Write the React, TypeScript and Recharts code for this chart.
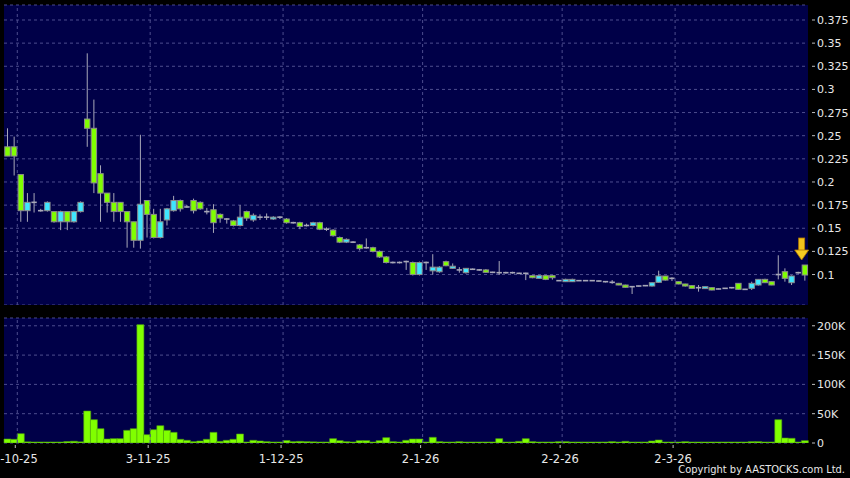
import React from 'react';
import { ComposedChart, Bar, XAxis, YAxis, CartesianGrid, ReferenceLine, ReferenceDot } from 'recharts';

// daily candles, oldest first (HKD)
const openPrice = [
  0.228, 0.228, 0.169, 0.178, 0.178, 0.169, 0.178, 0.157, 0.168, 0.157,
  0.168, 0.178, 0.258, 0.199, 0.188, 0.178, 0.168, 0.168, 0.157, 0.137,
  0.176, 0.165, 0.140, 0.157, 0.171, 0.180, 0.171, 0.173, 0.169, 0.171,
  0.168, 0.156, 0.161, 0.160, 0.153, 0.162, 0.161, 0.164, 0.162, 0.162,
  0.162, 0.162, 0.156, 0.156, 0.152, 0.153, 0.156, 0.149, 0.149, 0.142,
  0.135, 0.138, 0.135, 0.128, 0.129, 0.125, 0.119, 0.113, 0.113, 0.113,
  0.114, 0.100, 0.113, 0.113, 0.108, 0.108, 0.1095, 0.109, 0.105, 0.1067,
  0.1057, 0.105, 0.1024, 0.1024, 0.102, 0.102, 0.102, 0.1013, 0.1013, 0.0966,
  0.0988, 0.0948, 0.0966, 0.0934, 0.0948, 0.0948, 0.0934, 0.0934, 0.0934, 0.093,
  0.0923, 0.0916, 0.0887, 0.0862, 0.0869, 0.0876, 0.088, 0.0912, 0.0984, 0.094,
  0.0959, 0.0898, 0.0876, 0.0851, 0.0858, 0.0869, 0.0833, 0.0844, 0.0851, 0.0858,
  0.084, 0.084, 0.0905, 0.0948, 0.0912, 0.0887, 0.100, 0.0959, 0.0984, 0.102,
  0.0995,
];
const highPrice = [
  0.258, 0.249, 0.208, 0.188, 0.188, 0.171, 0.179, 0.168, 0.169, 0.168,
  0.169, 0.179, 0.339, 0.289, 0.218, 0.188, 0.188, 0.178, 0.168, 0.157,
  0.251, 0.180, 0.171, 0.171, 0.172, 0.185, 0.181, 0.175, 0.182, 0.179,
  0.172, 0.176, 0.166, 0.161, 0.159, 0.175, 0.169, 0.166, 0.165, 0.166,
  0.163, 0.163, 0.161, 0.157, 0.157, 0.155, 0.157, 0.157, 0.151, 0.149,
  0.141, 0.139, 0.136, 0.133, 0.139, 0.130, 0.126, 0.120, 0.114, 0.114,
  0.115, 0.114, 0.114, 0.114, 0.122, 0.109, 0.115, 0.112, 0.108, 0.107,
  0.1065, 0.106, 0.106, 0.103, 0.1146, 0.103, 0.103, 0.102, 0.102, 0.099,
  0.0995, 0.0995, 0.0995, 0.094, 0.0955, 0.0955, 0.094, 0.094, 0.094, 0.0935,
  0.093, 0.094, 0.091, 0.089, 0.0875, 0.088, 0.0885, 0.0915, 0.1042, 0.0985,
  0.097, 0.0925, 0.090, 0.0885, 0.0887, 0.087, 0.086, 0.085, 0.0855, 0.0865,
  0.0905, 0.0845, 0.0923, 0.095, 0.0955, 0.0925, 0.1208, 0.1067, 0.099, 0.103,
  0.1103,
];
const lowPrice = [
  0.228, 0.207, 0.157, 0.157, 0.167, 0.168, 0.168, 0.156, 0.148, 0.148,
  0.156, 0.167, 0.238, 0.188, 0.157, 0.167, 0.157, 0.157, 0.129, 0.129,
  0.128, 0.140, 0.139, 0.139, 0.153, 0.168, 0.168, 0.172, 0.166, 0.170,
  0.165, 0.145, 0.156, 0.155, 0.152, 0.152, 0.158, 0.157, 0.159, 0.159,
  0.159, 0.160, 0.155, 0.155, 0.149, 0.152, 0.152, 0.148, 0.147, 0.141,
  0.134, 0.134, 0.134, 0.126, 0.128, 0.124, 0.118, 0.112, 0.112, 0.112,
  0.105, 0.099, 0.099, 0.105, 0.100, 0.102, 0.109, 0.106, 0.102, 0.101,
  0.105, 0.104, 0.102, 0.1015, 0.0995, 0.101, 0.101, 0.1005, 0.094, 0.096,
  0.0955, 0.094, 0.0945, 0.093, 0.092, 0.092, 0.093, 0.093, 0.093, 0.0925,
  0.0915, 0.090, 0.0885, 0.086, 0.079, 0.087, 0.0875, 0.087, 0.091, 0.0935,
  0.093, 0.0895, 0.087, 0.085, 0.0815, 0.0845, 0.083, 0.084, 0.0845, 0.085,
  0.0835, 0.0835, 0.0833, 0.088, 0.091, 0.0885, 0.0948, 0.0923, 0.0887, 0.101,
  0.0934,
];
const closePrice = [
  0.238, 0.238, 0.208, 0.169, 0.178, 0.169, 0.169, 0.168, 0.157, 0.168,
  0.157, 0.168, 0.268, 0.258, 0.209, 0.188, 0.178, 0.178, 0.168, 0.157,
  0.137, 0.180, 0.165, 0.140, 0.159, 0.169, 0.180, 0.173, 0.180, 0.178,
  0.168, 0.170, 0.165, 0.160, 0.158, 0.153, 0.168, 0.159, 0.162, 0.162,
  0.160, 0.162, 0.160, 0.156, 0.156, 0.153, 0.153, 0.156, 0.149, 0.148,
  0.140, 0.135, 0.135, 0.132, 0.129, 0.129, 0.125, 0.119, 0.113, 0.113,
  0.114, 0.113, 0.100, 0.113, 0.104, 0.103, 0.1139, 0.1067, 0.105, 0.102,
  0.1057, 0.105, 0.105, 0.1024, 0.102, 0.102, 0.102, 0.1013, 0.1013, 0.0988,
  0.0959, 0.0988, 0.0988, 0.0934, 0.0923, 0.0923, 0.0934, 0.0934, 0.0934, 0.093,
  0.0923, 0.0916, 0.0905, 0.0887, 0.0869, 0.0876, 0.088, 0.0876, 0.0916, 0.0984,
  0.0959, 0.0923, 0.0898, 0.088, 0.0858, 0.0848, 0.0858, 0.0844, 0.0851, 0.0858,
  0.0905, 0.084, 0.0851, 0.0887, 0.0948, 0.0923, 0.100, 0.1031, 0.0912, 0.102,
  0.1103,
];
const volume = [
  6800, 6300, 15900, 2000, 1500, 500, 300, 1000, 1000, 2500,
  3000, 2000, 54600, 39800, 24400, 6800, 7400, 7400, 21600, 24400,
  201900, 14200, 22700, 29500, 21600, 18200, 6300, 4600, 2300, 3400,
  6300, 18200, 2800, 4600, 6300, 15400, 1100, 4600, 3400, 2300,
  600, 200, 4300, 2300, 2800, 2300, 2000, 1000, 1500, 7400,
  4000, 2300, 1000, 4000, 4000, 1700, 4000, 9100, 2300, 500,
  4600, 6800, 6800, 1000, 9700, 2300, 1000, 1500, 2300, 1500,
  1500, 1000, 1000, 1000, 7400, 1000, 1000, 2800, 7400, 2300,
  1000, 1500, 1500, 2300, 2300, 500, 500, 500, 500, 1000,
  1500, 2300, 1000, 2800, 1000, 500, 500, 3400, 5100, 1000,
  1000, 1000, 2300, 500, 500, 1500, 500, 500, 1000, 500,
  500, 1000, 2300, 2300, 1500, 1500, 39800, 8500, 8000, 1500,
  4000,
];

const dateTickIndex = [2, 22, 42, 63, 84, 101];
const dateTickLabel = ['2-10-25', '3-11-25', '1-12-25', '2-1-26', '2-2-26', '2-3-26'];
const priceTicks = [0.075, 0.1, 0.125, 0.15, 0.175, 0.2, 0.225, 0.25, 0.275, 0.3, 0.325, 0.35, 0.375];
const volumeTicks = [0, 50000, 100000, 150000, 200000];

const data = openPrice.map((o, i) => ({
  i,
  open: o,
  high: highPrice[i],
  low: lowPrice[i],
  close: closePrice[i],
  vol: volume[i],
}));

// day boundaries sit at the left edge of each candle slot
const boundaryTicks = dateTickIndex.map((i) => i - 0.5);

const BG = '#000048';
const GRID = '#4d4d8e';
const UP = '#80ff00';
const DOWN = '#3fe6ff';
const WICK = '#a8a8b8';
const EDGE = '#8c8c8c';
const TEXT = '#e8e8e8';
const FONT = '"DejaVu Sans", sans-serif';

function Candle(props: any) {
  const { x, y, width, height, payload } = props;
  const { open, close, high, low } = payload;
  const top = Math.min(y, y + height);
  const bottom = Math.max(y, y + height);
  const py = (v: number) => top + ((high - v) / (high - low)) * (bottom - top);
  const cx = x + width / 2;
  const bx = x + 0.8;
  const bw = width - 1.6;
  return (
    <g>
      <line x1={cx} x2={cx} y1={py(high)} y2={py(low)} stroke={WICK} strokeWidth={1} />
      {open === close ? (
        <line x1={bx} x2={bx + bw} y1={py(close)} y2={py(close)} stroke={WICK} strokeWidth={1.6} />
      ) : (
        <rect
          x={bx}
          y={py(Math.max(open, close))}
          width={bw}
          height={Math.max(1, py(Math.min(open, close)) - py(Math.max(open, close)))}
          fill={close > open ? UP : DOWN}
          stroke={EDGE}
          strokeWidth={1}
        />
      )}
    </g>
  );
}

function Arrow(props: any) {
  const { cx, cy } = props;
  const ax = cx - 3;
  return (
    <g>
      <rect x={ax - 3} y={cy - 27} width={6} height={13} fill="#f2c21c" stroke="#b37a00" strokeWidth={0.8} />
      <polygon
        points={`${ax - 7},${cy - 15} ${ax + 7},${cy - 15} ${ax},${cy - 5}`}
        fill="#f7cc22"
        stroke="#b37a00"
        strokeWidth={0.8}
      />
    </g>
  );
}

function RightTick(props: any) {
  const { x, y, payload, fmt } = props;
  return (
    <g>
      <line x1={x + 4} x2={x + 7} y1={y} y2={y} stroke="#bdbdbd" strokeWidth={1} />
      <text x={x + 9} y={y + 4} fill={TEXT} fontSize={11} fontFamily={FONT}>
        {fmt(payload.value)}
      </text>
    </g>
  );
}

function DateTick(props: any) {
  const { x, y, payload } = props;
  const label = dateTickLabel[boundaryTicks.indexOf(payload.value)];
  return (
    <g>
      <line x1={x - 2} x2={x - 2} y1={y + 2} y2={y + 5} stroke="#bdbdbd" strokeWidth={1} />
      <text x={x - 2} y={y + 19.5} textAnchor="middle" fill={TEXT} fontSize={11.5} fontFamily={FONT}>
        {label}
      </text>
    </g>
  );
}

const fmtPrice = (v: number) => String(v);
const fmtVol = (v: number) => (v === 0 ? '0' : `${v / 1000}K`);

export default function App() {
  const n = data.length;
  return (
    <div style={{ position: 'absolute', left: 0, top: 0, width: 850, height: 478, background: '#000', overflow: 'hidden' }}>
      <div style={{ position: 'absolute', left: 0, top: 0 }}>
        <ComposedChart width={850} height={305} data={data} margin={{ top: 5, right: 0, bottom: 0, left: 4 }} barCategoryGap={0}>
          <CartesianGrid vertical={false} fill={BG} stroke={GRID} strokeDasharray="3 3" />
          <XAxis dataKey="i" type="category" height={0} hide />
          <XAxis xAxisId="t" dataKey="i" type="number" domain={[-0.5, n - 0.5]} ticks={boundaryTicks} height={0} hide />
          <YAxis
            orientation="right"
            type="number"
            width={42}
            domain={[0.0671, 0.3912]}
            ticks={priceTicks}
            allowDataOverflow
            axisLine={false}
            tickLine={false}
            tickSize={0}
            tickMargin={0}
            tick={(p: any) => <RightTick {...p} fmt={fmtPrice} />}
          />
          {boundaryTicks.map((t) => (
            <ReferenceLine key={t} xAxisId="t" x={t} stroke={GRID} strokeDasharray="3 3" />
          ))}
          <Bar dataKey={(d: any) => [d.low, d.high]} shape={Candle} isAnimationActive={false} />
          <ReferenceDot x={n - 1} y={highPrice[n - 1]} r={0} shape={Arrow} />
        </ComposedChart>
      </div>
      <div style={{ position: 'absolute', left: 0, top: 313 }}>
        <ComposedChart width={850} height={165} data={data} margin={{ top: 5, right: 0, bottom: 0, left: 4 }} barCategoryGap={0}>
          <CartesianGrid vertical={false} fill={BG} stroke={GRID} strokeDasharray="3 3" />
          <XAxis
            xAxisId="t"
            dataKey="i"
            type="number"
            domain={[-0.5, n - 0.5]}
            ticks={boundaryTicks}
            height={35}
            axisLine={false}
            tickLine={false}
            tickSize={0}
            tickMargin={0}
            interval={0}
            tick={(p: any) => <DateTick {...p} />}
          />
          <XAxis dataKey="i" type="category" height={0} hide />
          <YAxis
            orientation="right"
            type="number"
            width={42}
            domain={[0, 213300]}
            ticks={volumeTicks}
            allowDataOverflow
            axisLine={false}
            tickLine={false}
            tickSize={0}
            tickMargin={0}
            tick={(p: any) => <RightTick {...p} fmt={fmtVol} />}
          />
          {boundaryTicks.map((t) => (
            <ReferenceLine key={t} xAxisId="t" x={t} stroke={GRID} strokeDasharray="3 3" />
          ))}
          <Bar dataKey="vol" fill={UP} stroke="#4c9a10" strokeWidth={0.6} minPointSize={1} isAnimationActive={false} />
        </ComposedChart>
      </div>
      <div
        style={{
          position: 'absolute',
          right: 5,
          top: 463,
          color: TEXT,
          fontFamily: '"DejaVu Sans Condensed", "DejaVu Sans", sans-serif',
          fontSize: 11,
          lineHeight: '14px',
          whiteSpace: 'nowrap',
        }}
      >
        Copyright by AASTOCKS.com Ltd.
      </div>
    </div>
  );
}
